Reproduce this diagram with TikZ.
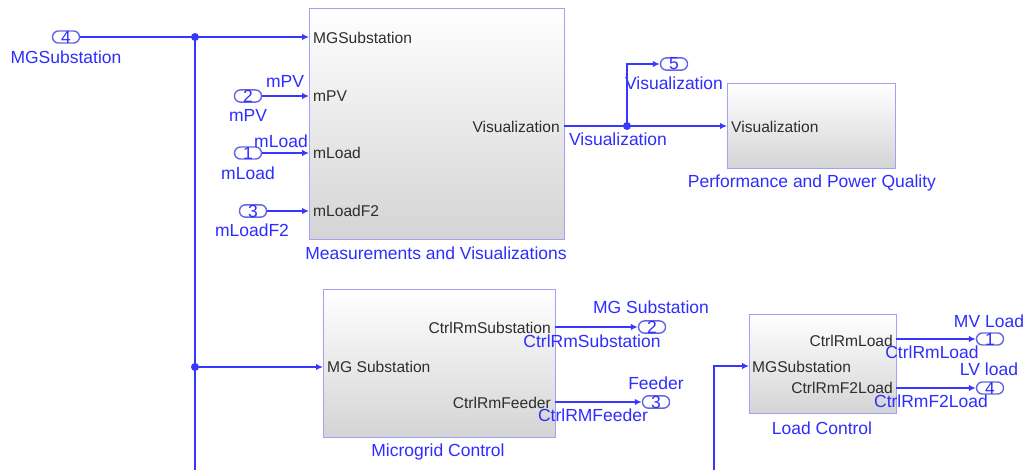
\documentclass[tikz,border=0pt]{standalone}
\usepackage{fontspec}
\setmainfont{Liberation Sans}
\usetikzlibrary{arrows.meta}
\definecolor{wirec}{RGB}{55,55,255}
\definecolor{labc}{RGB}{45,45,255}
\definecolor{blkborder}{RGB}{160,160,245}
\definecolor{portborder}{RGB}{100,100,230}
\definecolor{blkbottom}{RGB}{212,212,212}
\definecolor{intext}{RGB}{45,45,45}
\newcommand{\lblfont}{\fontsize{17.5}{19}\selectfont}
\newcommand{\infont}{\fontsize{15.6}{17}\selectfont}
\newcommand{\portfont}{\fontsize{17.5}{18}\selectfont}
\begin{document}
\begin{tikzpicture}[x=1pt,y=-1pt,
  blk/.style={draw=blkborder, line width=1.2pt, top color=white, bottom color=blkbottom, anchor=north west, inner sep=0},
  port/.style={draw=portborder, fill=white, line width=1.4pt, rounded corners=6pt, minimum width=27pt, minimum height=12pt, inner sep=0, font=\portfont, text=labc},
  wire/.style={draw=wirec, line width=2pt},
  arr/.style={-{Latex[length=7pt,width=6.5pt]}},
  lbl/.style={text=labc, font=\lblfont, inner sep=0},
  inl/.style={text=intext, font=\infont, inner sep=0, anchor=west},
  outl/.style={text=intext, font=\infont, inner sep=0, anchor=east},
  junc/.style={circle, fill=wirec, inner sep=0, minimum size=8pt}
]
\useasboundingbox (0,0) rectangle (1025,470);

% blocks
\node[blk, minimum width=255pt, minimum height=231pt] (meas) at (309,8) {};
\node[blk, minimum width=168pt, minimum height=85pt] (perf) at (727,83) {};
\node[blk, minimum width=232pt, minimum height=148pt] (mgc) at (323,289) {};
\node[blk, minimum width=147pt, minimum height=99pt] (lc) at (749,314) {};

% inner port labels
\node[inl] (mMG) at (313,38) {MGSubstation};
\node[inl] (mPVin) at (313,96) {mPV};
\node[inl] (mLin) at (313,153) {mLoad};
\node[inl] (mLF2in) at (313,211) {mLoadF2};
\node[outl] (mVis) at (560,127) {Visualization};
\node[inl] (pVis) at (731,127) {Visualization};
\node[inl] (cMG) at (327,367) {MG Substation};
\node[outl] (cSub) at (551,328) {CtrlRmSubstation};
\node[outl] (cFd) at (551,403) {CtrlRmFeeder};
\node[inl] (lMG) at (752,367) {MGSubstation};
\node[outl] (lLd) at (893,341) {CtrlRmLoad};
\node[outl] (lF2) at (893,388) {CtrlRmF2Load};

% block titles
\node[lbl] (tmeas) at (436,253) {Measurements and Visualizations};
\node[lbl] (tperf) at (812,183) {Performance and Power Quality};
\node[lbl] (tmgc) at (438,452) {Microgrid Control};
\node[lbl] (tlc) at (822,428) {Load Control};

% ports
\node[port] (p4) at (66,37) {4};
\node[port] (p2) at (248,96) {2};
\node[port] (p1) at (248,153) {1};
\node[port] (p3) at (253,211) {3};
\node[port] (p5) at (674,64) {5};
\node[port] (o2) at (652,327) {2};
\node[port] (o3) at (656,402) {3};
\node[port] (o1) at (990,339) {1};
\node[port] (o4) at (990,388) {4};

% port labels
\node[lbl] at (66,57) {MGSubstation};
\node[lbl] at (248,115) {mPV};
\node[lbl] at (248,173) {mLoad};
\node[lbl] at (252,230) {mLoadF2};
\node[lbl] at (674,83) {Visualization};
\node[lbl] at (651,307) {MG Substation};
\node[lbl] at (656,383) {Feeder};
\node[lbl] at (989,321) {MV Load};
\node[lbl] at (989,369) {LV load};

% signal labels
\node[lbl] at (285,81) {mPV};
\node[lbl] at (281,141) {mLoad};
\node[lbl] at (618,139) {Visualization};
\node[lbl] at (592,341) {CtrlRmSubstation};
\node[lbl] at (593,415) {CtrlRMFeeder};
\node[lbl] at (932,352) {CtrlRmLoad};
\node[lbl] at (931,401) {CtrlRmF2Load};

% junctions and coordinates
\node[junc] (j1) at (195,37) {};
\node[junc] (j2) at (195,367) {};
\node[junc] (j3) at (627,126) {};
\coordinate (busbot) at (195,470);
\coordinate (lcbot) at (714,470);
\coordinate (measIn1) at (309,37);
\coordinate (measIn2) at (309,96);
\coordinate (measIn3) at (309,153);
\coordinate (measIn4) at (309,211);
\coordinate (measOut) at (564,126);
\coordinate (perfIn) at (727,126);
\coordinate (mgcIn) at (323,367);
\coordinate (mgcOut1) at (555,327);
\coordinate (mgcOut2) at (555,402);
\coordinate (lcIn) at (749,366);
\coordinate (lcOut1) at (896,339);
\coordinate (lcOut2) at (896,388);

% wires
\draw[wire] (p4.east) -- (j1.center);
\draw[wire,arr] (j1.center) -- (measIn1);
\draw[wire] (j1.center) -- (busbot);
\draw[wire,arr] (j2.center) -- (mgcIn);
\draw[wire,arr] (p2.east) -- (measIn2);
\draw[wire,arr] (p1.east) -- (measIn3);
\draw[wire,arr] (p3.east) -- (measIn4);
\draw[wire] (measOut) -- (j3.center);
\draw[wire,arr] (j3.center) -- (perfIn);
\draw[wire,arr] (j3.center) |- (p5.west);
\draw[wire,arr] (mgcOut1) -- (o2.west);
\draw[wire,arr] (mgcOut2) -- (o3.west);
\draw[wire,arr] (lcOut1) -- (o1.west);
\draw[wire,arr] (lcOut2) -- (o4.west);
\draw[wire,arr] (lcbot) |- (lcIn);
\end{tikzpicture}
\end{document}
